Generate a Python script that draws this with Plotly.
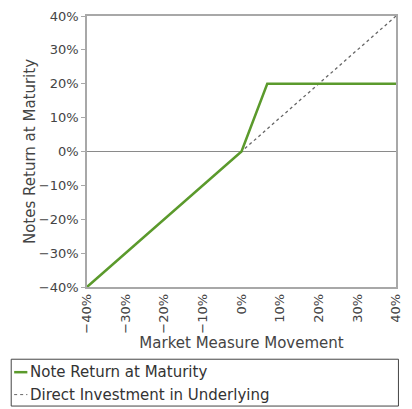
import plotly.graph_objects as go

# Data
note_x = [-40, 0, 6.67, 40]
note_y = [-40, 0, 20, 20]
direct_x = [-40, 40]
direct_y = [-40, 40]
series_names = ["Note Return at Maturity", "Direct Investment in Underlying"]
tick_vals = [-40, -30, -20, -10, 0, 10, 20, 30, 40]
tick_text = ["\u221240%", "\u221230%", "\u221220%", "\u221210%", "0%", "10%", "20%", "30%", "40%"]

GREEN = "#5b9a2c"
DOT = "#666666"
W, H = 412, 409
ML, MR, MT, MB = 87, 9, 15, 122
PW, PH = W - ML - MR, H - MT - MB

def px(x):
    return (x - ML) / PW

def py(y):
    return (H - MB - y) / PH

fig = go.Figure()
fig.add_trace(go.Scatter(x=direct_x, y=direct_y, mode="lines", name=series_names[1],
                         line=dict(color=DOT, width=1.3, dash="dot"), showlegend=False,
                         hoverinfo="skip"))
fig.add_trace(go.Scatter(x=note_x, y=note_y, mode="lines", name=series_names[0],
                         line=dict(color=GREEN, width=2.5), showlegend=False))

font = "DejaVu Sans, Verdana, sans-serif"
axis_common = dict(range=[-40, 40], tickmode="array", tickvals=tick_vals, ticktext=tick_text,
                   showgrid=False, showline=True, linecolor="#a8a8a8", linewidth=1.5,
                   mirror=True, tickcolor="#a8a8a8",
                   tickfont=dict(family=font, size=13, color="#444444"))

fig.update_layout(
    width=W, height=H,
    margin=dict(l=ML, r=MR, t=MT, b=MB),
    paper_bgcolor="white", plot_bgcolor="white",
    showlegend=False,
    xaxis=dict(**axis_common, tickangle=-90, zeroline=False, ticks="",
               title=dict(text="Market Measure Movement", font=dict(family=font, size=15, color="#444444"), standoff=3)),
    yaxis=dict(**axis_common, zeroline=True, zerolinecolor="#8a8a8a", zerolinewidth=1,
               ticks="outside", ticklen=4,
               title=dict(text="Notes Return at Maturity", font=dict(family=font, size=15, color="#444444"), standoff=0)),
    shapes=[
        dict(type="rect", xref="paper", yref="paper", x0=px(9.5), x1=px(405.5), y0=py(359.5), y1=py(406.5),
             line=dict(color="#444444", width=1), fillcolor="rgba(0,0,0,0)"),
        dict(type="line", xref="paper", yref="paper", x0=px(12.5), x1=px(26), y0=py(372.5), y1=py(372.5),
             line=dict(color=GREEN, width=2.5)),
        dict(type="line", xref="paper", yref="paper", x0=px(12.5), x1=px(26), y0=py(395), y1=py(395),
             line=dict(color=DOT, width=1, dash="dot")),
    ],
    annotations=[
        dict(text=series_names[0], xref="paper", yref="paper", x=px(27), y=py(372.5),
             xanchor="left", yanchor="middle", showarrow=False,
             font=dict(family=font, size=15, color="#333333")),
        dict(text=series_names[1], xref="paper", yref="paper", x=px(27), y=py(395),
             xanchor="left", yanchor="middle", showarrow=False,
             font=dict(family=font, size=15, color="#333333")),
    ],
)

fig.write_html("out.html", config={"displayModeBar": False},
               post_script="document.body.style.margin='0';document.body.style.overflow='hidden';")
